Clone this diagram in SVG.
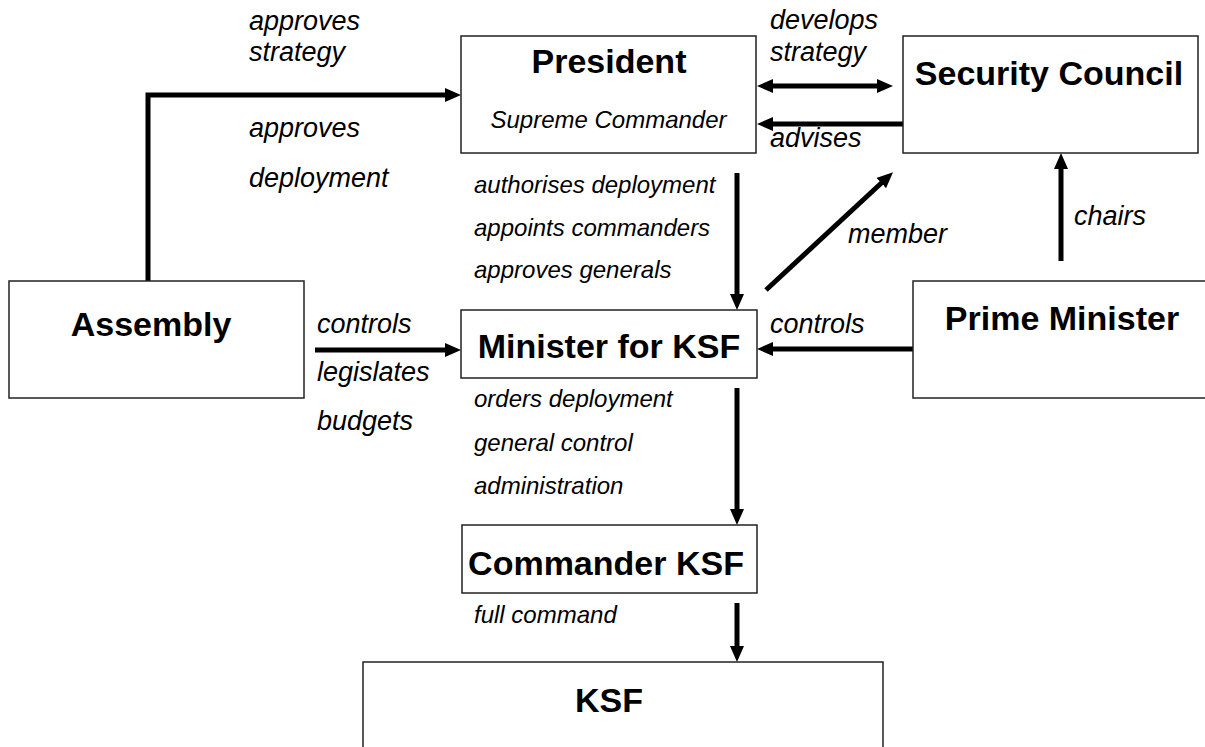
<svg xmlns="http://www.w3.org/2000/svg" width="1205" height="747" viewBox="0 0 1205 747">
<style>
.box{fill:#fff;stroke:#222;stroke-width:1.5}
.t{font-family:"Liberation Sans",Arial,sans-serif;font-weight:bold;font-size:34px;fill:#000;text-anchor:middle}
.l{font-family:"Liberation Sans",Arial,sans-serif;font-style:italic;font-size:27px;fill:#000}
.s{font-family:"Liberation Sans",Arial,sans-serif;font-style:italic;font-size:24px;fill:#000}
.c{fill:none;stroke:#000;stroke-width:5}
</style>
<defs>
<marker id="ah" markerUnits="userSpaceOnUse" markerWidth="16" markerHeight="14" refX="6" refY="7" orient="auto">
<path d="M0,0 L16,7 L0,14 z" fill="#000"/>
</marker>
<marker id="ahs" markerUnits="userSpaceOnUse" markerWidth="16" markerHeight="14" refX="6" refY="7" orient="auto-start-reverse">
<path d="M0,0 L16,7 L0,14 z" fill="#000"/>
</marker>
</defs>
<rect width="1205" height="747" fill="#fff"/>
<g id="connectors">
<path class="c" d="M148,281 V95 H451" marker-end="url(#ah)"/>
<path class="c" d="M767,86 H883" marker-start="url(#ahs)" marker-end="url(#ahs)"/>
<path class="c" d="M903,124 H767" marker-end="url(#ah)"/>
<path class="c" d="M737,173 V300" marker-end="url(#ah)"/>
<path class="c" d="M766,290 L885.7,179" marker-end="url(#ah)"/>
<path class="c" d="M1061,261 V163" marker-end="url(#ah)"/>
<path class="c" d="M913,349 H767" marker-end="url(#ah)"/>
<path class="c" d="M315,350 H451" marker-end="url(#ah)"/>
<path class="c" d="M737,388 V515" marker-end="url(#ah)"/>
<path class="c" d="M737,603 V652" marker-end="url(#ah)"/>
</g>
<g id="labels">
<text class="l" x="249" y="30">approves</text>
<text class="l" x="249" y="61">strategy</text>
<text class="l" x="249" y="137">approves</text>
<text class="l" x="249" y="187">deployment</text>
<text class="l" x="770" y="29">develops</text>
<text class="l" x="770" y="61">strategy</text>
<text class="l" x="770" y="147">advises</text>
<text class="s" x="474" y="193">authorises deployment</text>
<text class="s" x="474" y="236">appoints commanders</text>
<text class="s" x="474" y="278">approves generals</text>
<text class="l" x="848" y="243">member</text>
<text class="l" x="1074" y="225">chairs</text>
<text class="l" x="317" y="333">controls</text>
<text class="l" x="317" y="381">legislates</text>
<text class="l" x="317" y="430">budgets</text>
<text class="l" x="770" y="333">controls</text>
<text class="s" x="474" y="407">orders deployment</text>
<text class="s" x="474" y="451">general control</text>
<text class="s" x="474" y="494">administration</text>
<text class="s" x="474" y="623">full command</text>
</g>
<g id="president">
<rect class="box" x="461" y="36" width="295" height="117"/>
<text class="t" x="609" y="73">President</text>
<text class="s" x="608.5" y="128" text-anchor="middle">Supreme Commander</text>
</g>
<g id="security-council">
<rect class="box" x="903" y="36" width="295" height="117"/>
<text class="t" x="1049" y="85">Security Council</text>
</g>
<g id="assembly">
<rect class="box" x="9" y="281" width="295" height="117"/>
<text class="t" x="151" y="336">Assembly</text>
</g>
<g id="minister">
<rect class="box" x="461" y="310" width="296" height="68"/>
<text class="t" x="609" y="358">Minister for KSF</text>
</g>
<g id="prime-minister">
<rect class="box" x="913" y="281" width="300" height="117"/>
<text class="t" x="1062" y="330">Prime Minister</text>
</g>
<g id="commander">
<rect class="box" x="462" y="525" width="295" height="68"/>
<text class="t" x="606" y="575">Commander KSF</text>
</g>
<g id="ksf">
<rect class="box" x="363" y="662" width="520" height="100"/>
<text class="t" x="609" y="712">KSF</text>
</g>
</svg>
